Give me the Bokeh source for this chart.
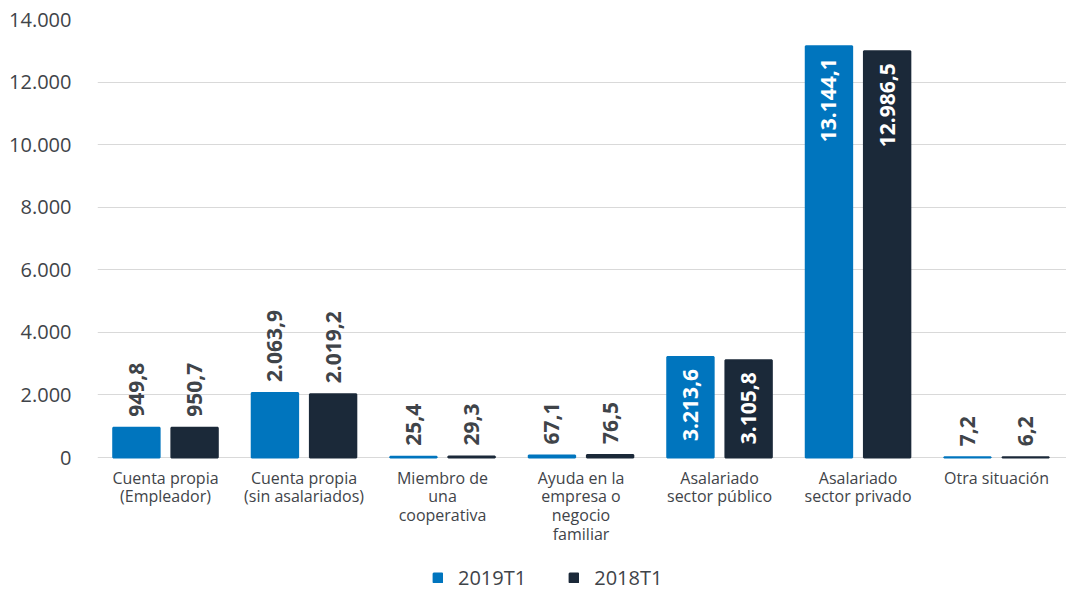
import math
from bokeh.plotting import figure
from bokeh.models import ColumnDataSource, FixedTicker, Legend, LegendItem, Range1d
from bokeh.core.properties import value
from bokeh.embed import file_html
from bokeh.resources import INLINE

# ---- data ----
categories = [
    "Cuenta propia\n(Empleador)",
    "Cuenta propia\n(sin asalariados)",
    "Miembro de\nuna\ncooperativa",
    "Ayuda en la\nempresa o\nnegocio\nfamiliar",
    "Asalariado\nsector público",
    "Asalariado\nsector privado",
    "Otra situación",
]
series_names = ["2019T1", "2018T1"]
v2019 = [949.8, 2063.9, 25.4, 67.1, 3213.6, 13144.1, 7.2]
v2018 = [950.7, 2019.2, 29.3, 76.5, 3105.8, 12986.5, 6.2]
y_ticks = [0, 2000, 4000, 6000, 8000, 10000, 12000, 14000]


def es_num(v, dec):
    s = f"{v:,.{dec}f}"
    return s.replace(",", "X").replace(".", ",").replace("X", ".")


FONT = "Open Sans"
BLUE = "#0075BE"
DARK = "#1B2939"
TXT = "#3F4449"

# layout: frame from y=19 (top, value 14000) to the bottom of the canvas;
# value 0 sits 135 px above the frame bottom (room for category labels + legend)
W, H = 1066, 592
FRAME_TOP, ZERO_Y = 19, 457
per_px = 14000 / (ZERO_Y - FRAME_TOP)
y_start = -(H - ZERO_Y) * per_px

p = figure(width=W, height=H, output_backend="svg", toolbar_location=None,
           x_range=Range1d(0.009, 7.005), y_range=Range1d(y_start, 14000),
           x_axis_location=None,
           min_border_left=97, min_border_right=0, min_border_top=FRAME_TOP,
           min_border_bottom=0)
p.outline_line_color = None
p.background_fill_color = "white"
p.border_fill_color = "white"

# grid (also provides the baseline at 0)
p.xgrid.grid_line_color = None
p.ygrid.grid_line_color = "#D9D9D9"
p.ygrid.grid_line_width = 1
p.ygrid.ticker = FixedTicker(ticks=y_ticks)

# y axis
p.yaxis.ticker = FixedTicker(ticks=y_ticks)
p.yaxis.major_label_overrides = {t: es_num(t, 0) for t in y_ticks}
p.yaxis.axis_line_color = None
p.yaxis.major_tick_line_color = None
p.yaxis.minor_tick_line_color = None
p.yaxis.major_label_standoff = 20
p.yaxis.major_label_text_font = FONT
p.yaxis.major_label_text_font_size = "20px"
p.yaxis.major_label_text_color = TXT

# category labels under the baseline
xt = [i + 0.5 for i in range(len(categories))]
p.text(x=xt, y=[0] * len(xt), text=categories, y_offset=9,
       text_align="center", text_baseline="top", text_line_height=0.86,
       text_font=value(FONT), text_font_size="16px", text_color=TXT)

offsets = [-0.21, 0.21]
colors = [BLUE, DARK]
renderers = []
for vals, off, col in zip([v2019, v2018], offsets, colors):
    xs = [i + 0.5 + off for i in range(len(vals))]
    src = ColumnDataSource(dict(x=xs, top=vals))
    r = p.vbar(x="x", top="top", width=0.335, bottom=0, source=src,
               fill_color=col, line_color=col, line_width=2)
    renderers.append(r)

    out_x, out_y, out_t, in_x, in_y, in_t = [], [], [], [], [], []
    for x, v in zip(xs, vals):
        if v >= 3000:
            in_x.append(x); in_y.append(v); in_t.append(es_num(v, 1))
        else:
            out_x.append(x); out_y.append(v); out_t.append(es_num(v, 1))
    p.text(x=out_x, y=out_y, text=out_t, angle=math.pi / 2, y_offset=-11,
           text_align="left", text_baseline="middle",
           text_font=value(FONT), text_font_style="bold",
           text_font_size="21px", text_color=TXT)
    p.text(x=in_x, y=in_y, text=in_t, angle=math.pi / 2, y_offset=12,
           text_align="right", text_baseline="middle",
           text_font=value(FONT), text_font_style="bold",
           text_font_size="21px", text_color="white")

legend = Legend(items=[LegendItem(label=n, renderers=[r]) for n, r in zip(series_names, renderers)],
                orientation="horizontal", location=(335, 1))
legend.glyph_width = 11
legend.glyph_height = 11
legend.label_height = 20
legend.label_standoff = 15
legend.spacing = 42
legend.padding = 0
legend.margin = 0
legend.label_text_font = FONT
legend.label_text_font_size = "20px"
legend.label_text_color = TXT
legend.border_line_color = None
legend.background_fill_alpha = 0
p.add_layout(legend, "center")

open("out.html", "w").write(file_html(p, INLINE))
